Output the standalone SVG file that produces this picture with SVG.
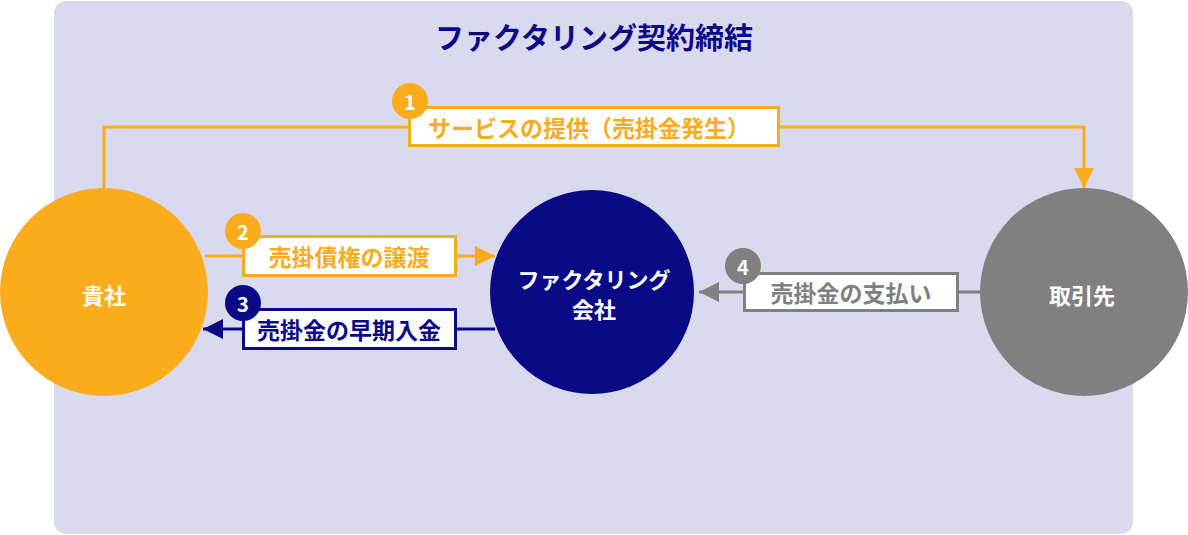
<svg xmlns="http://www.w3.org/2000/svg" width="1188" height="535" viewBox="0 0 1188 535">
<defs>
<style>
.t{font-family:"Noto Sans CJK JP","Noto Sans",sans-serif;font-weight:bold;text-anchor:middle;dominant-baseline:central}
.box{fill:#fff;stroke-width:3}
.bn{fill:#fff;font-size:20px}
.c{font-size:22px;fill:#fff}
.l{font-size:23px}
</style>
<marker id="ao" viewBox="0 0 10 10" refX="10" refY="5" markerWidth="20" markerHeight="20" markerUnits="userSpaceOnUse" orient="auto"><path d="M0,0L10,5L0,10Z" fill="#faac1d"/></marker>
<marker id="an" viewBox="0 0 10 10" refX="10" refY="5" markerWidth="20" markerHeight="20" markerUnits="userSpaceOnUse" orient="auto"><path d="M0,0L10,5L0,10Z" fill="#0a0a87"/></marker>
<marker id="ag" viewBox="0 0 10 10" refX="10" refY="5" markerWidth="20" markerHeight="20" markerUnits="userSpaceOnUse" orient="auto"><path d="M0,0L10,5L0,10Z" fill="#808080"/></marker>
</defs>
<rect id="frame" x="54" y="1" width="1079" height="533" rx="12" fill="#dadaee"/>
<text class="t" x="594" y="36" font-size="29" fill="#0a0a87">ファクタリング契約締結</text>
<g id="connectors" fill="none" stroke-width="3">
<path d="M104,190V127H1084V188" stroke="#faac1d" marker-end="url(#ao)"/>
<path d="M205,256H495" stroke="#faac1d" marker-end="url(#ao)"/>
<path d="M495,329H203" stroke="#0a0a87" marker-end="url(#an)"/>
<path d="M982,292H699" stroke="#808080" marker-end="url(#ag)"/>
</g>
<g id="node-kisha"><circle cx="104" cy="292" r="104" fill="#faac1d"/><text class="t c" x="104" y="294">貴社</text></g>
<g id="node-factoring"><circle cx="592" cy="292" r="102" fill="#0a0a87"/><text class="t c" x="594" y="278">ファクタリング</text><text class="t c" x="594" y="308">会社</text></g>
<g id="node-torihikisaki"><circle cx="1084" cy="292" r="104" fill="#808080"/><text class="t c" x="1082" y="294">取引先</text></g>
<g id="label1"><rect class="box" x="409.5" y="107.5" width="369" height="38" stroke="#faac1d"/><text class="t l" x="589" y="127" fill="#faac1d">サービスの提供（売掛金発生）</text><circle cx="410" cy="101" r="18" fill="#faac1d"/><text class="t bn" x="410" y="101">1</text></g>
<g id="label2"><rect class="box" x="243.5" y="236.5" width="212" height="39" stroke="#faac1d"/><text class="t l" x="349" y="256" fill="#faac1d">売掛債権の譲渡</text><circle cx="243" cy="231" r="18" fill="#faac1d"/><text class="t bn" x="243" y="231">2</text></g>
<g id="label3"><rect class="box" x="243.5" y="309.5" width="212" height="39" stroke="#0a0a87"/><text class="t l" x="349" y="329" fill="#0a0a87">売掛金の早期入金</text><circle cx="243" cy="303" r="18" fill="#0a0a87"/><text class="t bn" x="243" y="303">3</text></g>
<g id="label4"><rect class="box" x="744.5" y="273.5" width="213" height="37" stroke="#808080"/><text class="t l" x="851" y="292" fill="#808080">売掛金の支払い</text><circle cx="743" cy="266" r="18" fill="#808080"/><text class="t bn" x="743" y="266">4</text></g>
</svg>
